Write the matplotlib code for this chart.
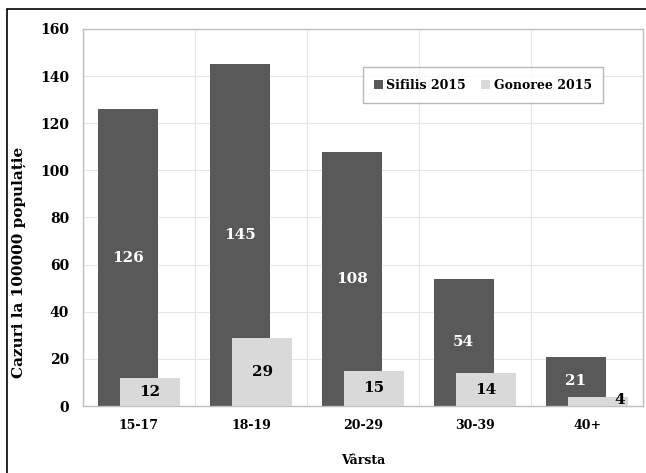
import matplotlib.pyplot as plt
import numpy as np
from matplotlib.patches import Rectangle

plt.rcParams['font.family'] = ['DejaVu Serif']
plt.rcParams['font.weight'] = 'bold'

grupe = ['15-17', '18-19', '20-29', '30-39', '40+']
sifilis = [126, 145, 108, 54, 21]
gonoree = [12, 29, 15, 14, 4]

fig = plt.figure(figsize=(6.46, 4.73), dpi=100)
ax = fig.add_axes([83 / 646, 67 / 473, 560 / 646, 377 / 473])

x = np.arange(len(grupe))
w = 0.54
off = 0.1
ax.bar(x - off, sifilis, w, color='#595959', label='Sifilis 2015', zorder=2)
ax.bar(x + off, gonoree, w, color='#d9d9d9', label='Gonoree 2015', zorder=3)

for xi, v in zip(x, sifilis):
    ax.text(xi - off, v / 2, str(v), ha='center', va='center', color='white',
            fontsize=11, fontweight='bold', zorder=4)
for xi, v in zip(x, gonoree):
    if v < 8:
        ax.text(xi + off + w / 2 - 0.03, v / 2 + 0.5, str(v), ha='right', va='center',
                color='black', fontsize=11, fontweight='bold', zorder=4)
    else:
        ax.text(xi + off, v / 2, str(v), ha='center', va='center', color='black',
                fontsize=11, fontweight='bold', zorder=4)

ax.set_xlim(-0.5, len(grupe) - 0.5)
ax.set_ylim(0, 160)
ax.set_yticks(range(0, 161, 20))
ax.set_xticks(x)
ax.set_xticklabels(grupe, fontsize=9, fontweight='bold')
ax.tick_params(axis='y', labelsize=10, length=0, pad=10)
ax.tick_params(axis='x', length=0, pad=9)

# category separators and horizontal grid
ax.set_xticks(np.arange(-0.5, len(grupe), 1), minor=True)
ax.tick_params(which='minor', length=0)
ax.grid(axis='y', color='#e6e6e6', linewidth=0.8, zorder=0)
ax.grid(axis='x', which='minor', color='#e6e6e6', linewidth=0.8, zorder=0)
ax.grid(axis='x', which='major', visible=False)
for s in ax.spines.values():
    s.set_color('#bfbfbf')
    s.set_linewidth(1)

ax.set_ylabel('Cazuri la 100000 populație', fontsize=11, fontweight='bold')
ax.yaxis.set_label_coords(-0.102, 0.38)
ax.set_xlabel('Vârsta', fontsize=9, fontweight='bold', labelpad=16)

leg = ax.legend(loc='center', bbox_to_anchor=(0.714, 0.851), ncol=2, fontsize=9,
                frameon=True, fancybox=False, edgecolor='#a6a6a6', handlelength=0.7,
                handleheight=0.7, handletextpad=0.3, columnspacing=1.2,
                borderpad=0.9)
leg.get_frame().set_linewidth(1)

# outer frame of the figure
fig.patches.append(Rectangle((7 / 646, -0.2), 1.2, 1.2 - 9 / 473, transform=fig.transFigure,
                             fill=False, edgecolor='black', linewidth=1.2))

fig.savefig('out.png', dpi=100)
